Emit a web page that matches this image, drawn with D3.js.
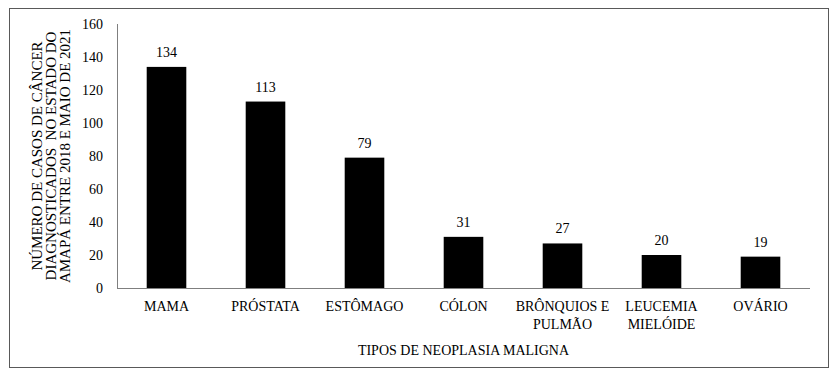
<!DOCTYPE html>
<html>
<head>
<meta charset="utf-8">
<script src="https://cdn.jsdelivr.net/npm/d3@7"></script>
<style>
  body { margin: 0; background: #fff; }
  text { font-family: "Liberation Serif", "Times New Roman", serif; fill: #000; }
</style>
</head>
<body>
<div id="chart"></div>
<script>
// data
const categories = ["MAMA", "PRÓSTATA", "ESTÔMAGO", "CÓLON", "BRÔNQUIOS E|PULMÃO", "LEUCEMIA|MIELÓIDE", "OVÁRIO"];
const cases = [134, 113, 79, 31, 27, 20, 19];
const yTicks = [0, 20, 40, 60, 80, 100, 120, 140, 160];
const yTitle = ["NÚMERO DE CASOS DE CÂNCER", "DIAGNOSTICADOS  NO ESTADO DO", "AMAPÁ ENTRE 2018 E MAIO DE 2021"];
const xTitle = "TIPOS DE NEOPLASIA MALIGNA";

const W = 831, H = 375;
const margin = {top: 24, right: 21, bottom: 87, left: 117};
const width = W - margin.left - margin.right,
      height = H - margin.top - margin.bottom;

const root = d3.select("#chart")
  .append("svg")
    .attr("width", W)
    .attr("height", H);

// outer frame
root.append("rect")
  .attr("x", 9.5).attr("y", 8.5)
  .attr("width", 819).attr("height", 359)
  .attr("fill", "none")
  .attr("stroke", "#595959")
  .attr("stroke-width", 1);

const svg = root.append("g")
  .attr("transform", `translate(${margin.left},${margin.top})`);

const x = d3.scaleBand()
  .domain(categories)
  .range([0, width])
  .paddingInner(0.6)
  .paddingOuter(0.3);

const y = d3.scaleLinear()
  .domain([0, 160])
  .range([height, 0]);

// Y axis: line only, labels left
const yAxis = svg.append("g")
  .call(d3.axisLeft(y).tickValues(yTicks).tickSize(0).tickPadding(14));
yAxis.select(".domain").attr("stroke", "#7f7f7f").attr("d", `M0.5,0V${height}`);
yAxis.selectAll("text")
  .style("font-family", "Liberation Serif, serif")
  .style("font-size", "14px")
  .attr("fill", "#000");

// X axis
const xAxis = svg.append("g")
  .attr("transform", `translate(0,${height})`)
  .call(d3.axisBottom(x).tickSize(0).tickFormat(""));
xAxis.select(".domain").attr("stroke", "#7f7f7f").attr("d", `M0,0.5H${width}`);

// category labels (two lines where needed)
xAxis.selectAll(".tick").each(function(d) {
  const t = d3.select(this).append("text")
    .attr("text-anchor", "middle")
    .attr("y", 23)
    .style("font-size", "14px");
  d.split("|").forEach((s, i) => {
    t.append("tspan").attr("x", 0).attr("dy", i ? 18 : 0).text(s);
  });
});

// bars
const rows = categories.map((c, i) => ({cat: c, v: cases[i]}));
svg.append("g")
  .selectAll("rect")
  .data(rows)
  .join("rect")
    .attr("x", d => x(d.cat))
    .attr("y", d => y(d.v))
    .attr("width", x.bandwidth())
    .attr("height", d => height - y(d.v))
    .attr("fill", "#000");

// value labels
svg.append("g")
  .selectAll("text")
  .data(rows)
  .join("text")
    .attr("x", d => x(d.cat) + x.bandwidth() / 2)
    .attr("y", d => y(d.v) - 10)
    .attr("text-anchor", "middle")
    .style("font-size", "14px")
    .text(d => d.v);

// y title, three rotated lines
const yt = root.append("text")
  .attr("transform", "translate(42,156) rotate(-90)")
  .attr("text-anchor", "middle")
  .style("font-size", "15px")
  .attr("xml:space", "preserve");
yTitle.forEach((s, i) => {
  yt.append("tspan").attr("x", 0).attr("dy", i ? 13.8 : 0).text(s);
});

// x title
root.append("text")
  .attr("x", margin.left + width / 2)
  .attr("y", 355)
  .attr("text-anchor", "middle")
  .style("font-size", "14px")
  .text(xTitle);
</script>
</body>
</html>
